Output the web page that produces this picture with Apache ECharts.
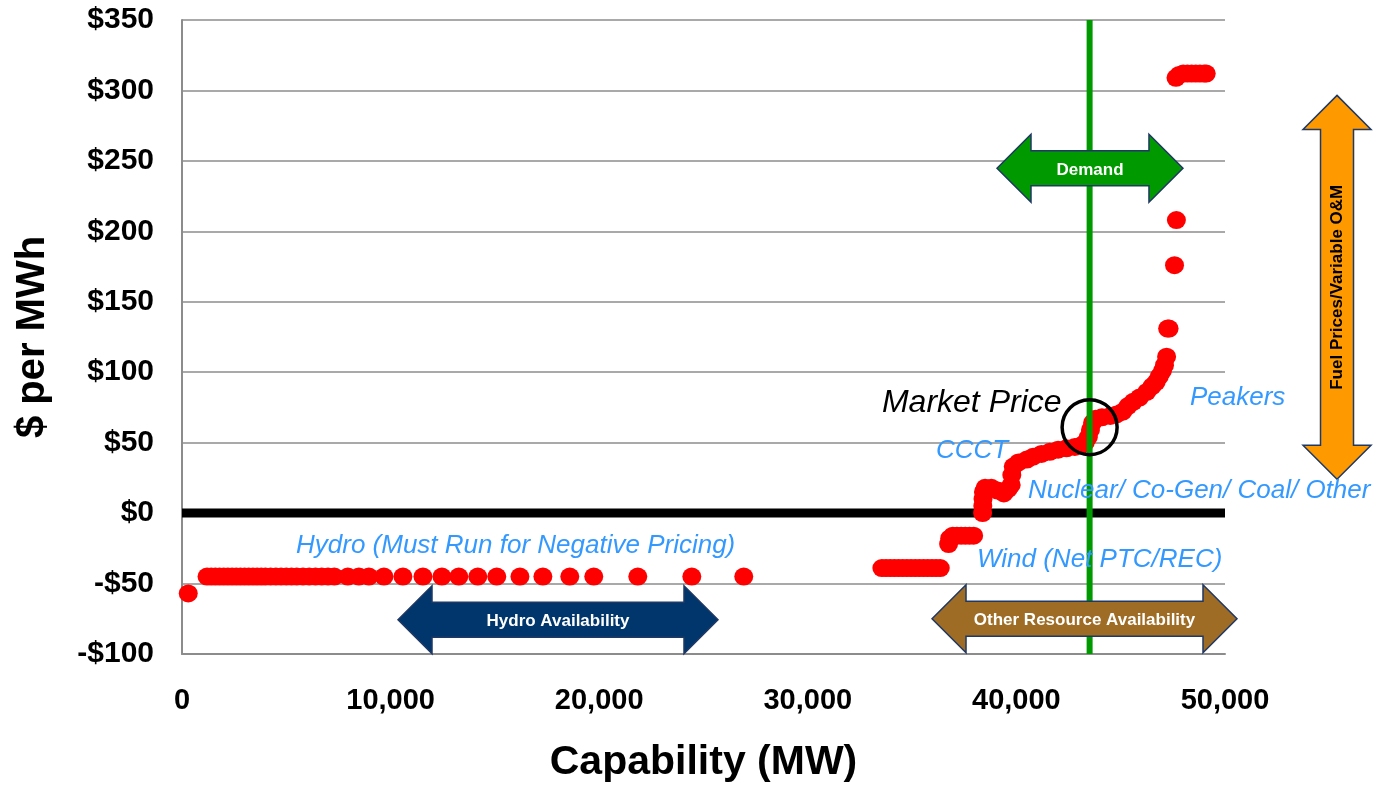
<!DOCTYPE html>
<html><head><meta charset="utf-8">
<script src="https://cdn.jsdelivr.net/npm/echarts@6/dist/echarts.min.js"></script>
<style>html,body{margin:0;padding:0;background:#fff}#c{width:1388px;height:788px}</style>
</head><body><div id="c"></div>
<script>
// ---- Data ----
const xTicks = [0, 10000, 20000, 30000, 40000, 50000];
const yTicks = [-100, -50, 0, 50, 100, 150, 200, 250, 300, 350];

const hydroMW = [300,1200,1400,1600,1800,2000,2200,2400,2600,2800,3000,3200,3400,3600,3800,4000,4250,4500,4750,5000,5250,5500,5800,6100,6400,6700,7000,7300,7950,8480,8960,9680,10590,11550,12460,13270,14180,15090,16200,17300,18590,19740,21850,24440,26930];
const hydroPrice = [-57,-45,-45,-45,-45,-45,-45,-45,-45,-45,-45,-45,-45,-45,-45,-45,-45,-45,-45,-45,-45,-45,-45,-45,-45,-45,-45,-45,-45,-45,-45,-45,-45,-45,-45,-45,-45,-45,-45,-45,-45,-45,-45,-45,-45];

const otherMW = [33550,33750,33950,34150,34350,34550,34750,34950,35150,35350,35550,35750,35950,36150,36350,
  36750,36800,36950,37150,37350,37550,37750,37950,
  38380,38390,38400,38420,38500,38800,39100,39400,39600,39750,39780,39850,
  40100,40500,40800,41200,41600,42000,42400,42800,43100,43300,43450,43550,43650,43800,
  44100,44500,44800,45100,45350,45600,45900,46250,46500,46700,46850,47000,47100,47200,
  47250,47320,47580,47670,
  47650,47800,48000,48200,48400,48600,48800,49000,49100];
const otherPrice = [-39,-39,-39,-39,-39,-39,-39,-39,-39,-39,-39,-39,-39,-39,-39,
  -22,-18,-16,-16,-16,-16,-16,-16,
  0,5,10,15,18,18,16,14,17,20,27,33,
  36,38,40,42,43.5,45,46,47,48,50,54,59,64,67,
  68,69,70,72,76,79,82,86,90,93,97,101,105,111,
  131,131,176,208,
  309,311,312,312,312,312,312,312,312];

const zeroLine = [[0,0],[50000,0]];
const demandMW = 43510;
const marketPoint = [[43510, 61]];

// ---- Chart ----
const FONT = '"Liberation Sans", Arial, Helvetica, sans-serif';
const chart = echarts.init(document.getElementById('c'));
const fmtX = v => v.toLocaleString('en-US');
const fmtY = v => (v < 0 ? '-$' + (-v) : '$' + v);

chart.setOption({
  animation: false,
  backgroundColor: '#ffffff',
  grid: { left: 182, right: 163, top: 20, bottom: 132 },
  xAxis: {
    type: 'value', min: xTicks[0], max: xTicks[xTicks.length-1], interval: xTicks[1]-xTicks[0],
    axisLine: { show: true, onZero: false, lineStyle: { color: '#8c8c8c', width: 2 } },
    axisTick: { show: false }, splitLine: { show: false },
    axisLabel: { formatter: fmtX, fontSize: 29, fontWeight: 'bold', color: '#000', margin: 32, fontFamily: FONT },
    name: 'Capability (MW)', nameLocation: 'middle', nameGap: 88,
    nameTextStyle: { fontSize: 41, fontWeight: 'bold', color: '#000', fontFamily: FONT }
  },
  yAxis: {
    type: 'value', min: yTicks[0], max: yTicks[yTicks.length-1], interval: yTicks[1]-yTicks[0],
    axisLine: { show: true, onZero: false, lineStyle: { color: '#8c8c8c', width: 2 } },
    axisTick: { show: false },
    splitLine: { show: true, lineStyle: { color: '#8c8c8c', width: 1.5 } },
    axisLabel: { formatter: fmtY, fontSize: 30, fontWeight: 'bold', color: '#000', margin: 28, fontFamily: FONT },
    name: '$ per MWh', nameLocation: 'middle', nameGap: 129,
    nameTextStyle: { fontSize: 40, fontWeight: 'bold', color: '#000', fontFamily: FONT }
  },
  series: [
    { type: 'line', data: zeroLine, symbol: 'none', silent: true, z: 1,
      lineStyle: { color: '#000', width: 9 } },
    { type: 'scatter', data: hydroMW.map((x,i)=>[x, hydroPrice[i]]), symbol: 'circle', symbolSize: [19,18],
      itemStyle: { color: '#ff0000', opacity: 1 }, z: 2 },
    { type: 'scatter', data: otherMW.map((x,i)=>[x, otherPrice[i]]), symbol: 'circle', symbolSize: [19,18],
      itemStyle: { color: '#ff0000', opacity: 1 }, z: 2 },
    { type: 'line', data: [[demandMW, yTicks[0]], [demandMW, yTicks[yTicks.length-1]]], symbol: 'none', silent: true, z: 3,
      lineStyle: { color: '#009a00', width: 6 } },
    { type: 'scatter', data: marketPoint, symbol: 'circle', symbolSize: 55, z: 4,
      itemStyle: { color: 'rgba(0,0,0,0)', borderColor: '#000', borderWidth: 3.5, opacity: 1 } }
  ]
});

// ---- Annotations (positions in data space, converted through the chart's scales) ----
const px = (x, y) => chart.convertToPixel({ gridIndex: 0 }, [x, y]);
const BLUE = '#3399ff';
const labels = [
  { text: 'Hydro (Must Run for Negative Pricing)', at: [5465, -23.3], color: BLUE, font: 'italic 26px ' + FONT },
  { text: 'Wind (Net PTC/REC)', at: [38110, -33.3], color: BLUE, font: 'italic 26px ' + FONT },
  { text: 'Nuclear/ Co-Gen/ Coal/ Other', at: [40555, 15.6], color: BLUE, font: 'italic 26px ' + FONT },
  { text: 'CCCT', at: [36145, 43.9], color: BLUE, font: 'italic 26px ' + FONT },
  { text: 'Peakers', at: [48320, 82.1], color: BLUE, font: 'italic 26px ' + FONT },
  { text: 'Market Price', at: [33555, 78.2], color: '#000', font: 'italic 32px ' + FONT }
];
const arrows = [
  { text: 'Hydro Availability', from: [10355, -75.7], to: [25695, -75.7], fill: '#00366b', color: '#fff', vertical: false },
  { text: 'Other Resource Availability', from: [35955, -75], to: [50575, -75], fill: '#9e6c24', color: '#fff', vertical: false },
  { text: 'Demand', from: [39070, 244.8], to: [47985, 244.8], fill: '#009900', color: '#fff', vertical: false },
  { text: 'Fuel Prices/Variable O&M', from: [55370, 24.1], to: [55370, 296.5], fill: '#ff9900', color: '#000', vertical: true }
];

function arrowPoints(a, b, vertical, headLen, headHalf, shaftHalf) {
  if (!vertical) {
    const x1 = Math.min(a[0], b[0]), x2 = Math.max(a[0], b[0]), c = a[1];
    return [[x1,c],[x1+headLen,c-headHalf],[x1+headLen,c-shaftHalf],[x2-headLen,c-shaftHalf],[x2-headLen,c-headHalf],
            [x2,c],[x2-headLen,c+headHalf],[x2-headLen,c+shaftHalf],[x1+headLen,c+shaftHalf],[x1+headLen,c+headHalf]];
  }
  const y1 = Math.min(a[1], b[1]), y2 = Math.max(a[1], b[1]), c = a[0];
  return [[c,y1],[c+headHalf,y1+headLen],[c+shaftHalf,y1+headLen],[c+shaftHalf,y2-headLen],[c+headHalf,y2-headLen],
          [c,y2],[c-headHalf,y2-headLen],[c-shaftHalf,y2-headLen],[c-shaftHalf,y1+headLen],[c-headHalf,y1+headLen]];
}

const graphics = [];
arrows.forEach(ar => {
  const a = px(ar.from[0], ar.from[1]), b = px(ar.to[0], ar.to[1]);
  const pts = arrowPoints(a, b, ar.vertical, 34, 34, ar.vertical ? 16.5 : 17.5);
  graphics.push({ type: 'polygon', z: 100, shape: { points: pts },
    style: { fill: ar.fill, stroke: '#1f3864', lineWidth: 1.5 } });
  const cx = (a[0] + b[0]) / 2, cy = (a[1] + b[1]) / 2;
  graphics.push({ type: 'text', z: 101, x: cx, y: cy + (ar.vertical ? 0 : 2), rotation: ar.vertical ? Math.PI/2 : 0,
    style: { text: ar.text, fill: ar.color, font: 'bold 17px ' + FONT, align: 'center', verticalAlign: 'middle' } });
});
labels.forEach(l => {
  const p = px(l.at[0], l.at[1]);
  graphics.push({ type: 'text', z: 101, x: p[0], y: p[1],
    style: { text: l.text, fill: l.color, font: l.font, align: 'left', verticalAlign: 'middle' } });
});
chart.setOption({ graphic: graphics });
</script>
</body></html>
